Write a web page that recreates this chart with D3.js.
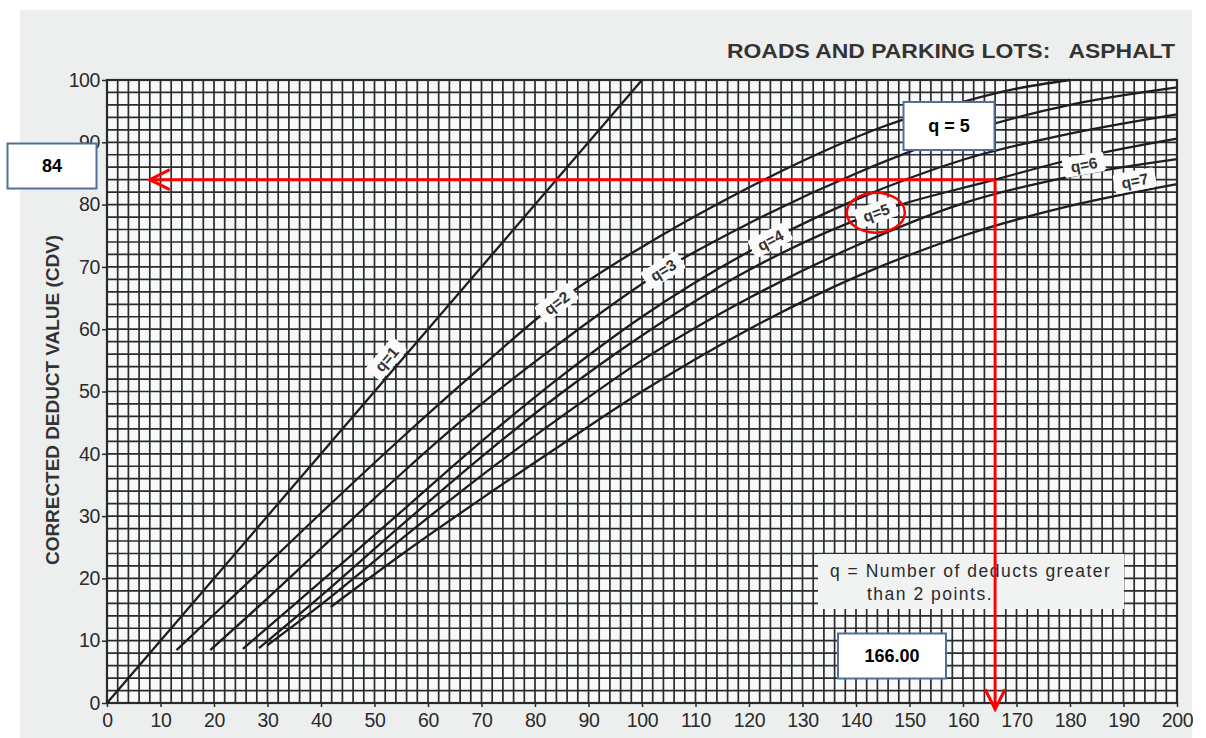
<!DOCTYPE html>
<html>
<head>
<meta charset="utf-8">
<script src="https://cdn.jsdelivr.net/npm/d3@7"></script>
<style>
  body { margin: 0; background: #ffffff; }
  svg { display: block; }
</style>
</head>
<body>
<svg id="chart" width="1206" height="738"></svg>
<script>
// Corrected deduct value curves: [total deduct value, CDV]
const q1 = [[0, 0], [100, 100]];
const q2 = [[13, 8.5], [20, 14.2], [30, 22.3], [40, 30.5], [55, 42.5], [70, 54], [84, 64.2], [100, 73.2], [115, 80.5], [130, 87], [145, 92.5], [160, 96.5], [170, 98.6], [180, 100]];
const q3 = [[19.3, 8.5], [30, 16.8], [40, 24.8], [55, 36.8], [70, 48], [85, 58], [104, 69.5], [120, 77], [140, 85], [160, 91.5], [180, 96], [200, 98.8]];
const q4 = [[25.4, 8.7], [35, 15.8], [45, 23.2], [55, 30.7], [70, 42], [85, 52.5], [100, 62], [124, 74.3], [140, 80.8], [160, 87.2], [180, 91.4], [200, 94.5]];
const q5 = [[28.4, 8.8], [40, 17.2], [55, 28.5], [70, 39.5], [85, 49.8], [100, 59], [120, 69.5], [143.7, 78.7], [166, 84], [180, 87.2], [200, 90.6]];
const q6 = [[30, 9.3], [40, 15.8], [55, 26.3], [70, 36.5], [85, 46], [100, 55], [120, 65], [140, 73.4], [160, 80.2], [180, 84.5], [200, 87.3]];
const q7 = [[41.8, 15.4], [55, 23.8], [70, 32.8], [85, 41.5], [100, 50], [120, 60], [140, 68.4], [160, 75], [180, 79.8], [200, 83.3]];

const curveNames = ["q=1", "q=2", "q=3", "q=4", "q=5", "q=6", "q=7"];
const curveData = [q1, q2, q3, q4, q5, q6, q7];

const xTicks = d3.range(0, 201, 10);
const yTicks = d3.range(0, 101, 10);
const gridStep = 2;

const exampleTDV = 166;
const exampleCDV = 84;
const exampleQ = "q = 5";

const titleText = "ROADS AND PARKING LOTS:   ASPHALT";
const yTitle = "CORRECTED DEDUCT VALUE (CDV)";
const noteLines = ["q = Number of deducts greater", "than 2 points."];

// ---- layout ----
const svg = d3.select("#chart");
const x = d3.scaleLinear().domain([0, 200]).range([107, 1177]);
const y = d3.scaleLinear().domain([0, 100]).range([703, 80]);
const font = "'Liberation Sans', Arial, Helvetica, sans-serif";
const ink = "#2a2a2a";

// scanned sheet
svg.append("rect").attr("x", 20).attr("y", 10).attr("width", 1172).attr("height", 728).attr("fill", "#edefef");
svg.append("rect").attr("x", x(0)).attr("y", y(100)).attr("width", x(200) - x(0)).attr("height", y(0) - y(100)).attr("fill", "#f7f9fa");

// grid
const grid = svg.append("g").attr("stroke", "#2c2c2c").attr("stroke-width", 1.7);
grid.selectAll("line.v").data(d3.range(0, 200 + 0.1, gridStep)).join("line")
  .attr("class", "v")
  .attr("x1", d => x(d)).attr("x2", d => x(d)).attr("y1", y(0)).attr("y2", y(100));
grid.selectAll("line.h").data(d3.range(0, 100 + 0.1, gridStep)).join("line")
  .attr("class", "h")
  .attr("x1", x(0)).attr("x2", x(200)).attr("y1", d => y(d)).attr("y2", d => y(d));
svg.append("rect").attr("x", x(0)).attr("y", y(100)).attr("width", x(200) - x(0)).attr("height", y(0) - y(100))
  .attr("fill", "none").attr("stroke", "#2a2a2a").attr("stroke-width", 2.2);

// axes
const yAxis = svg.append("g").attr("transform", `translate(${x(0)},0)`)
  .call(d3.axisLeft(y).tickValues(yTicks).tickSize(5).tickPadding(2));
const xAxis = svg.append("g").attr("transform", `translate(0,${y(0)})`)
  .call(d3.axisBottom(x).tickValues(xTicks).tickSize(4).tickPadding(6));
[yAxis, xAxis].forEach(a => {
  a.select(".domain").remove();
  a.selectAll("line").attr("stroke", ink).attr("stroke-width", 1.5);
  a.selectAll("text").attr("fill", ink).attr("font-family", font).attr("font-size", 19.5)
    .attr("letter-spacing", -0.4);
});

// note box (covers the grid)
svg.append("rect").attr("x", 818).attr("y", 554).attr("width", 306).attr("height", 55).attr("fill", "#f1f2f2");
svg.append("text").attr("x", 830).attr("y", 577).attr("font-family", font).attr("font-size", 17.5)
  .attr("letter-spacing", 1.5).attr("fill", ink).text(noteLines[0]);
svg.append("text").attr("x", 867).attr("y", 600).attr("font-family", font).attr("font-size", 17.5)
  .attr("letter-spacing", 1.5).attr("fill", ink).text(noteLines[1]);

// curves
const line = d3.line().x(d => x(d[0])).y(d => y(d[1])).curve(d3.curveMonotoneX);
const paths = svg.append("g").selectAll("path").data(curveData).join("path")
  .attr("d", line).attr("fill", "none").attr("stroke", "#1e1e1e").attr("stroke-width", 2.3);

// inline curve labels: TDV position along each curve and a sideways nudge (px)
const labelTDV = [54, 84, 104, 124, 143.7, 183, 192.5];
const labelNudge = [-12, 0, 0, 0, 0, -9, -11];
paths.each(function (d, i) {
  const node = this, total = node.getTotalLength();
  const tx = x(labelTDV[i]);
  let best = 0, bestDist = Infinity;
  for (let s = 0; s <= total; s += 1) {
    const p = node.getPointAtLength(s);
    if (Math.abs(p.x - tx) < bestDist) { bestDist = Math.abs(p.x - tx); best = s; }
  }
  const p = node.getPointAtLength(best);
  const a = node.getPointAtLength(Math.max(0, best - 6));
  const b = node.getPointAtLength(Math.min(total, best + 6));
  const ang = Math.atan2(b.y - a.y, b.x - a.x) * 180 / Math.PI;
  const g = svg.append("g").attr("transform", `translate(${p.x},${p.y}) rotate(${ang}) translate(0,${labelNudge[i]})`);
  g.append("rect").attr("x", -21).attr("y", -10).attr("width", 42).attr("height", 20).attr("rx", 3)
    .attr("fill", "#fbfbfb");
  g.append("text").attr("text-anchor", "middle").attr("dy", "0.36em")
    .attr("font-family", font).attr("font-weight", "bold").attr("font-size", 15.5)
    .attr("fill", "#333").text(curveNames[i]);
});

// title and axis title
svg.append("text").attr("x", 727).attr("y", 58)
  .attr("xml:space", "preserve").style("white-space", "pre")
  .attr("textLength", 448).attr("lengthAdjust", "spacingAndGlyphs")
  .attr("font-family", font).attr("font-weight", "bold").attr("font-size", 21).attr("fill", "#333")
  .text(titleText);
svg.append("text").attr("transform", "translate(59,400) rotate(-90)").attr("text-anchor", "middle")
  .attr("textLength", 330).attr("lengthAdjust", "spacingAndGlyphs")
  .attr("font-family", font).attr("font-weight", "bold").attr("font-size", 18).attr("fill", "#333")
  .text(yTitle);

// worked example: read CDV for TDV on the q = 5 curve
const red = "#ff0000";
const ex = x(exampleTDV), ey = y(exampleCDV);
const ann = svg.append("g").attr("stroke", red).attr("stroke-width", 3).attr("fill", "none");
ann.append("line").attr("x1", ex).attr("y1", ey).attr("x2", x(8)).attr("y2", ey);
ann.append("polyline").attr("points", `${x(8) + 20},${ey - 10} ${x(8)},${ey} ${x(8) + 20},${ey + 10}`);
ann.append("line").attr("x1", ex).attr("y1", ey).attr("x2", ex).attr("y2", y(-1));
ann.append("polyline").attr("points", `${ex - 10},${y(-1) - 20} ${ex},${y(-1)} ${ex + 10},${y(-1) - 20}`);
ann.append("ellipse").attr("cx", x(143.7)).attr("cy", y(78.7)).attr("rx", 29).attr("ry", 20).attr("stroke-width", 2.5);

// callout boxes
function callout(cx, cy, w, h, label) {
  svg.append("rect").attr("x", cx - w / 2).attr("y", cy - h / 2).attr("width", w).attr("height", h)
    .attr("fill", "#ffffff").attr("stroke", "#4f7199").attr("stroke-width", 2);
  svg.append("text").attr("x", cx).attr("y", cy).attr("dy", "0.36em").attr("text-anchor", "middle")
    .attr("font-family", font).attr("font-weight", "bold").attr("font-size", 18).attr("fill", "#000")
    .text(label);
}
callout(52, 166, 89, 45, String(exampleCDV));
callout(949, 126, 91, 48, exampleQ);
callout(892, 656, 108, 45, exampleTDV.toFixed(2));
</script>
</body>
</html>
